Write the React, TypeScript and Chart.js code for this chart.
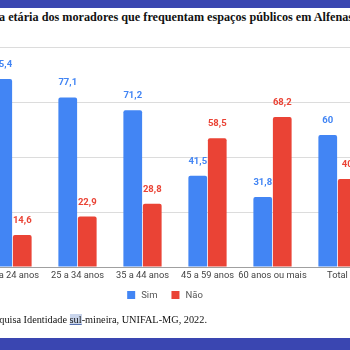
import React, { useEffect, useRef } from "react";
import { Chart, registerables } from "chart.js";

Chart.register(...registerables);

const categories = ["18 a 24 anos", "25 a 34 anos", "35 a 44 anos", "45 a 59 anos", "60 anos ou mais", "Total"];
const simValues = [85.4, 77.1, 71.2, 41.5, 31.8, 60];
const naoValues = [14.6, 22.9, 28.8, 58.5, 68.2, 40];
const seriesNames = ["Sim", "Não"];
const yTicks = [0, 25, 50, 75, 100];

const BLUE = "#4285F4";
const RED = "#EA4335";
const BAND = "#3a46b1";

const fmt = (v: number) => String(v).replace(".", ",");

const labelPlugin = {
  id: "valueLabels",
  afterDatasetsDraw(chart: any) {
    const ctx = chart.ctx;
    ctx.save();
    ctx.font = "bold 9.5px Roboto";
    ctx.textAlign = "center";
    ctx.textBaseline = "alphabetic";
    chart.data.datasets.forEach((ds: any, di: number) => {
      const meta = chart.getDatasetMeta(di);
      ctx.fillStyle = ds.labelColor;
      meta.data.forEach((el: any, i: number) => {
        ctx.fillText(fmt(ds.data[i]), el.x, el.y - 12);
      });
    });
    ctx.restore();
  },
};

// legend drawn from the datasets, centred at a given x, at a given y
const legendPlugin = {
  id: "customLegend",
  afterDraw(chart: any) {
    const ctx = chart.ctx;
    const box = 8;
    const gap = 6;
    const itemGap = 14;
    ctx.save();
    ctx.font = "9.5px Roboto";
    ctx.textBaseline = "middle";
    const items = chart.data.datasets.map((ds: any) => ({
      text: ds.label,
      color: ds.backgroundColor,
      w: ctx.measureText(ds.label).width,
    }));
    const total = items.reduce((s: number, it: any) => s + box + gap + it.w, 0) + itemGap * (items.length - 1);
    const cx = chart.width / 2;
    const cy = chart.chartArea.bottom + 28;
    let x = cx - total / 2;
    items.forEach((it: any) => {
      ctx.fillStyle = it.color;
      ctx.fillRect(x, cy - box / 2, box, box);
      x += box + gap;
      ctx.fillStyle = "#555";
      ctx.fillText(it.text, x, cy + 0.5);
      x += it.w + itemGap;
    });
    ctx.restore();
  },
};

export default function App() {
  const ref = useRef<HTMLCanvasElement | null>(null);
  useEffect(() => {
    if (!ref.current) return;
    const chart = new Chart(ref.current, {
      type: "bar",
      data: {
        labels: categories,
        datasets: [
          { label: seriesNames[0], data: simValues, backgroundColor: BLUE, labelColor: BLUE, borderRadius: 2, borderSkipped: "bottom" } as any,
          { label: seriesNames[1], data: naoValues, backgroundColor: RED, labelColor: RED, borderRadius: 2, borderSkipped: "bottom" } as any,
        ],
      },
      options: {
        responsive: false,
        animation: false,
        layout: { padding: { left: 30, right: 10, top: 10, bottom: 30 } },
        datasets: { bar: { categoryPercentage: 0.6, barPercentage: 0.96 } },
        scales: {
          x: {
            afterFit: (s: any) => { s.height = 20; },
            grid: { display: false, drawTicks: false },
            border: { display: false },
            ticks: { color: "#444", font: { family: "Roboto", size: 9.3 }, padding: 3, maxRotation: 0, autoSkip: false },
          },
          y: {
            min: 0,
            max: 100,
            afterFit: (s: any) => { s.width = 0; },
            afterBuildTicks: (s: any) => { s.ticks = yTicks.map((v) => ({ value: v })); },
            ticks: { display: false },
            border: { display: false },
            grid: {
              drawTicks: false,
              color: (c: any) => (c.tick && c.tick.value === 0 ? "#a0a0a0" : "#dcdcdc"),
            },
          },
        },
        plugins: {
          legend: { display: false },
          tooltip: { enabled: false },
        },
      },
      plugins: [labelPlugin, legendPlugin],
    });
    return () => chart.destroy();
  }, []);

  return (
    <div style={{ position: "fixed", left: 0, top: 0, width: 350, height: 350, overflow: "hidden", background: "#fff" }}>
      <div style={{ position: "absolute", left: 0, top: 0, width: 350, height: 8, background: BAND }} />
      <div
        style={{
          position: "absolute",
          right: -3,
          top: 10,
          whiteSpace: "nowrap",
          font: "bold 12.2px 'Liberation Serif'",
          color: "#111",
        }}
      >
        Faixa etária dos moradores que frequentam espaços públicos em Alfenas
      </div>
      <canvas ref={ref} width={430} height={280} style={{ position: "absolute", left: -50, top: 37 }} />
      <div
        style={{
          position: "absolute",
          right: 143,
          top: 314,
          whiteSpace: "nowrap",
          font: "10.3px 'Liberation Serif'",
          color: "#111",
        }}
      >
        Fonte: Pesquisa Identidade{" "}
        <span style={{ background: "#c9d5ec", textDecoration: "underline", textDecorationColor: "#5570b0" }}>sul</span>
        -mineira, UNIFAL-MG, 2022.
      </div>
      <div style={{ position: "absolute", left: 0, top: 338, width: 350, height: 12, background: BAND }} />
    </div>
  );
}
